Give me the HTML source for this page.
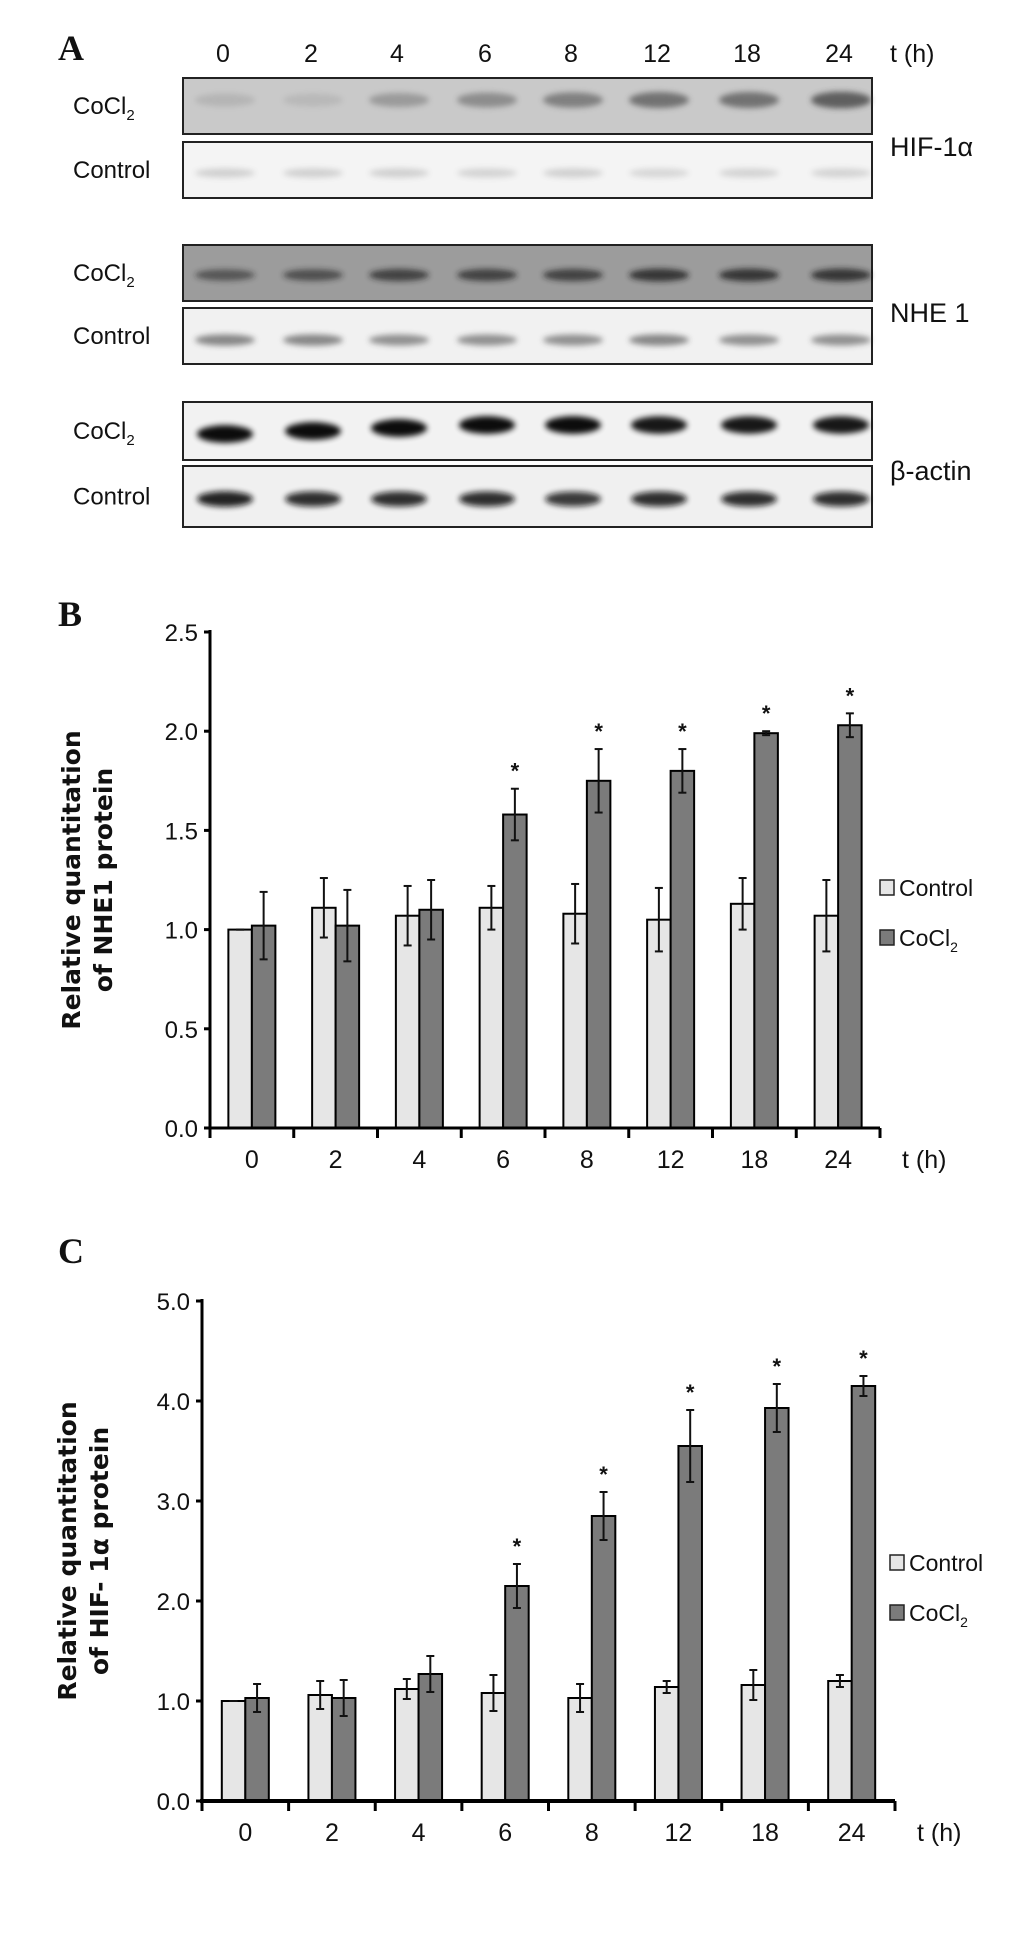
<!DOCTYPE html>
<html><head><meta charset="utf-8">
<style>
html,body{margin:0;padding:0;background:#fff;}
body{width:1033px;height:1942px;position:relative;overflow:hidden;}
svg{position:absolute;left:0;top:0;}
</style></head>
<body>
<svg id="fig" width="1033" height="1942" viewBox="0 0 1033 1942" xmlns="http://www.w3.org/2000/svg">
<defs>
<filter id="blur" x="-50%" y="-100%" width="200%" height="300%"><feGaussianBlur stdDeviation="3"/></filter>
</defs>
<g id="panelA"></g>
<g id="chartB"></g>
<g id="chartC"></g>
</svg>
<script>
// ---- Panel A data ----
const laneLabels = ["0","2","4","6","8","12","18","24"];
const hifCoCl2 = [0.15,0.12,0.35,0.45,0.55,0.65,0.65,0.8];
const hifControl = [0.22,0.22,0.22,0.2,0.22,0.18,0.2,0.2];
const nheCoCl2 = [0.55,0.6,0.7,0.7,0.7,0.8,0.8,0.8];
const nheControl = [0.55,0.55,0.5,0.5,0.5,0.55,0.5,0.5];
const actCoCl2 = [0.95,0.95,0.95,0.95,0.95,0.9,0.9,0.9];
const actControl = [0.9,0.85,0.85,0.85,0.8,0.85,0.85,0.85];

// ---- Chart B data ----
const catsB = ["0","2","4","6","8","12","18","24"];
const ctrlB = [1.0,1.11,1.07,1.11,1.08,1.05,1.13,1.07];
const ctrlErrB = [0.0,0.15,0.15,0.11,0.15,0.16,0.13,0.18];
const cocB = [1.02,1.02,1.10,1.58,1.75,1.80,1.99,2.03];
const cocErrB = [0.17,0.18,0.15,0.13,0.16,0.11,0.01,0.06];
const sigB = [false,false,false,true,true,true,true,true];
const ticksB = ["0.0","0.5","1.0","1.5","2.0","2.5"];

// ---- Chart C data ----
const catsC = ["0","2","4","6","8","12","18","24"];
const ctrlC = [1.0,1.06,1.12,1.08,1.03,1.14,1.16,1.20];
const ctrlErrC = [0.0,0.14,0.10,0.18,0.14,0.06,0.15,0.06];
const cocC = [1.03,1.03,1.27,2.15,2.85,3.55,3.93,4.15];
const cocErrC = [0.14,0.18,0.18,0.22,0.24,0.36,0.24,0.10];
const sigC = [false,false,false,true,true,true,true,true];
const ticksC = ["0.0","1.0","2.0","3.0","4.0","5.0"];

const NS="http://www.w3.org/2000/svg";
function mk(tag, attrs, parent){const e=document.createElementNS(NS,tag);for(const k in attrs)e.setAttribute(k,attrs[k]);if(parent)parent.appendChild(e);return e;}
function txt(parent,x,y,s,size,opts){opts=opts||{};const t=mk('text',{x:x,y:y,'font-size':size,'text-anchor':opts.anchor||'start','font-family':opts.family||'"Liberation Sans Narrow","Liberation Sans",sans-serif','font-weight':opts.weight||'normal',fill:'#111'},parent);if(opts.stretch)t.setAttribute('textLength',opts.stretch);t.textContent=s;return t;}

// ---- Panel A ----
(function(){
const g=document.getElementById('panelA');
const a=txt(g,58,60,"A",36,{family:'"Liberation Serif",serif',weight:'bold'});


const laneX=[223,311,397,485,571,657,747,839];
laneLabels.forEach((l,i)=>{const t=txt(g,laneX[i],62,l,25,{anchor:'middle'});

});
const th=txt(g,890,62,"t (h)",25);


const rows=[
 {y:78,h:56,bg:'#c9c9c9',vals:hifCoCl2,by:100,lab:'CoCl',dark:'#444',bw:30,bh:6},
 {y:142,h:56,bg:'#f4f4f4',vals:hifControl,by:173,lab:'Control',dark:'#555',bw:30,bh:4},
 {y:245,h:56,bg:'#9c9c9c',vals:nheCoCl2,by:275,lab:'CoCl',dark:'#1a1a1a',bw:30,bh:4},
 {y:308,h:56,bg:'#f1f1f1',vals:nheControl,by:340,lab:'Control',dark:'#333',bw:30,bh:4},
 {y:402,h:58,bg:'#f2f2f2',vals:actCoCl2,by:428,lab:'CoCl',dark:'#000',bw:28,bh:6},
 {y:466,h:61,bg:'#f0f0f0',vals:actControl,by:499,lab:'Control',dark:'#111',bw:28,bh:5}
];
rows.forEach((r,ri)=>{
 const rect=mk('rect',{x:183,y:r.y,width:689,height:r.h,fill:r.bg,stroke:'#222','stroke-width':2},g);
 
 
 r.vals.forEach((v,i)=>{
   let yy=r.by; if(ri===4) yy=r.by+ (i<3?(6-i*3):-3);
   const e=mk('ellipse',{cx:laneX[i]+2,cy:yy,rx:r.bw,ry:r.bh+v*3,fill:r.dark,opacity:v,filter:'url(#blur)'},g);
   
   
 });
 const ly=r.y+r.h/2+8;
 const t=txt(g,73,ly,r.lab,24);
 
 
 if(r.lab==='CoCl'){const s=mk('tspan',{'font-size':15,dy:6},t);s.textContent='2';}
});
[["HIF-1α",147],["NHE 1",313],["β-actin",471]].forEach(p=>{
 const t=txt(g,890,p[1]+9,p[0],27);
 
 
});
})();

// ---- Bar chart builder ----
function barChart(gid,cfg){
 const g=document.getElementById(gid);
 const x0=cfg.x0,x1=cfg.x1,yb=cfg.yb,yt=cfg.yt,max=cfg.max;
 const band=(x1-x0)/cfg.cats.length;
 const yS=v=>yb-(v/max)*(yb-yt);
 const bw=23.5;
 const pl=txt(g,cfg.labX,cfg.labY,cfg.letter,36,{family:'"Liberation Serif",serif',weight:'bold'});
 
 
 const ya=mk('line',{x1:x0,y1:yt-2,x2:x0,y2:yb+1,stroke:'#000','stroke-width':3},g);
 
 
 cfg.ticks.forEach((t,i)=>{
   const v=i*max/(cfg.ticks.length-1), y=yS(v);
   const tl=mk('line',{x1:x0-6,y1:y,x2:x0,y2:y,stroke:'#000','stroke-width':3},g);
   
   
   const lt=txt(g,x0-12,y+9,t,24,{anchor:'end'});
   
   
 });
 cfg.cats.forEach((c,i)=>{
   const cx=x0+band*(i+0.5);
   const series=[[cfg.ctrl[i],cfg.ctrlErr[i],'#e6e6e6',cx-bw],[cfg.coc[i],cfg.cocErr[i],'#7b7b7b',cx]];
   series.forEach((s,si)=>{
     const y=yS(s[0]);
     const r=mk('rect',{x:s[3],y:y,width:bw,height:yb-y,fill:s[2],stroke:'#000','stroke-width':2},g);
     
     
     const ex=s[3]+bw/2, ye1=yS(s[0]+s[1]), ye2=yS(s[0]-s[1]);
     const eg=mk('g',{stroke:'#111','stroke-width':2},g);
     
     
     mk('line',{x1:ex,y1:ye1,x2:ex,y2:ye2},eg);
     mk('line',{x1:ex-4,y1:ye1,x2:ex+4,y2:ye1},eg);
     mk('line',{x1:ex-4,y1:ye2,x2:ex+4,y2:ye2},eg);
   });
   if(cfg.sig[i]){
     const st=txt(g,cx+bw/2,yS(cfg.coc[i]+cfg.cocErr[i])-10,"*",22,{anchor:'middle',weight:'bold',family:'"Liberation Sans",sans-serif'});
     
     
   }
   const xl=txt(g,cx,yb+40,c,25,{anchor:'middle'});
   
   
 });
 const xa=mk('line',{x1:x0-2,y1:yb,x2:x1,y2:yb,stroke:'#000','stroke-width':cfg.axw},g);
 
 
 for(let i=0;i<=cfg.cats.length;i++){
   const tx=x0+band*i;
   const tk=mk('line',{x1:tx,y1:yb,x2:tx,y2:yb+10,stroke:'#000','stroke-width':3},g);
   
   
 }
 const tu=txt(g,x1+22,yb+40,"t (h)",25);
 
 
 const cy=(yt+yb)/2;
 const yt1=txt(g,0,0,"Relative quantitation",cfg.tfs,{anchor:'middle',weight:'bold',family:'"DejaVu Sans",sans-serif'});
 yt1.setAttribute('transform','translate('+(cfg.titleX)+','+cy+') rotate(-90)');
 
 
 const yt2=txt(g,0,0,cfg.title2,cfg.tfs,{anchor:'middle',weight:'bold',family:'"DejaVu Sans",sans-serif'});
 yt2.setAttribute('transform','translate('+(cfg.titleX+32)+','+cy+') rotate(-90)');
 
 
 [["Control",'#e6e6e6',cfg.legY],["CoCl",'#7b7b7b',cfg.legY+50]].forEach(l=>{
   const lg=mk('g',{},g);
   
   
   mk('rect',{x:cfg.legX,y:l[2]-8,width:14,height:15,fill:l[1],stroke:'#222','stroke-width':1.5},lg);
   const t=txt(lg,cfg.legX+19,l[2]+8,l[0],23);
   if(l[0]==='CoCl'){const s=mk('tspan',{'font-size':14,dy:6},t);s.textContent='2';}
 });
}

barChart('chartB',{cats:catsB,ctrl:ctrlB,ctrlErr:ctrlErrB,coc:cocB,cocErr:cocErrB,sig:sigB,ticks:ticksB,
 x0:210,x1:880,yb:1128,yt:632,max:2.5,letter:"B",labX:58,labY:626,titleX:80,tfs:25,title2:"of NHE1 protein",legX:880,legY:888,axw:3});
barChart('chartC',{cats:catsC,ctrl:ctrlC,ctrlErr:ctrlErrC,coc:cocC,cocErr:cocErrC,sig:sigC,ticks:ticksC,
 x0:202,x1:895,yb:1801,yt:1301,max:5.0,letter:"C",labX:58,labY:1263,titleX:76,tfs:25,title2:"of HIF- 1α protein",legX:890,legY:1563,axw:4});
</script>
</body></html>
